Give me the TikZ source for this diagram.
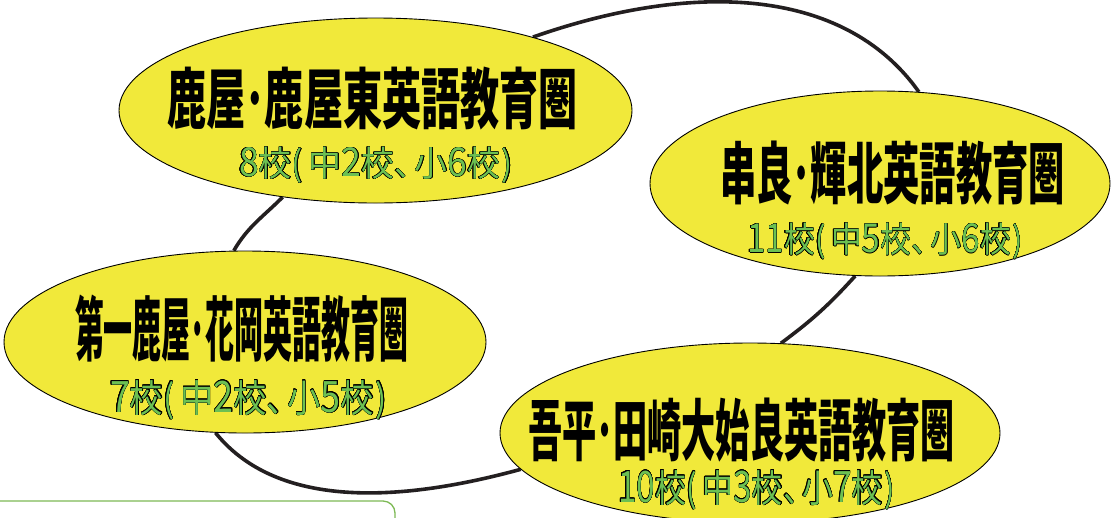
\documentclass[tikz,border=0pt]{standalone}
\usepackage{fontspec}
\usepackage{graphicx}
\usepackage[copies]{contour}
\usetikzlibrary{shapes.geometric,backgrounds}
\newfontfamily\jp{Noto Sans CJK JP}
\definecolor{ellfill}{RGB}{241,233,58}
\definecolor{ringc}{RGB}{35,31,32}
\definecolor{cntgreen}{RGB}{108,192,82}
\definecolor{boxgreen}{RGB}{125,185,85}
\contourlength{0.45pt}
\contournumber{16}
\newcommand\ttl[3]{\resizebox{#1}{\height}{\fontsize{#2}{#2}\selectfont\jp\bfseries #3}}
\newcommand\cnt[3]{\resizebox{#1}{\height}{\fontsize{#2}{#2}\selectfont\jp\textcolor{cntgreen}{\contour{black}{#3}}}}
\newcommand\dg[1]{\scalebox{1.08}[1.14]{#1}}
\newcommand\tp{(\kern0.18em}
\newcommand\cp{\kern0.05em)}
\newcommand\tn{\makebox[0.62em][l]{、}}
\tikzset{
  zone/.style={ellipse, draw=black, line width=0.9pt, fill=ellfill, inner sep=0pt},
  ring/.style={draw=ringc, line width=3.6pt},
  title/.style={inner sep=0pt, text=black},
  count/.style={inner sep=0pt},
  boxline/.style={draw=boxgreen, line width=1.3pt, rounded corners=12pt}
}
\begin{document}
\begin{tikzpicture}[x=1pt,y=-1pt]
\useasboundingbox (0,0) rectangle (1113,517);
\clip (0,0) rectangle (1113,517);

\node[zone, minimum width=513pt, minimum height=185pt] (e1) at (375.5,110.5) {};
\node[zone, minimum width=460pt, minimum height=185pt] (e2) at (880,183.5) {};
\node[zone, minimum width=482pt, minimum height=182pt] (e3) at (245,342) {};
\node[zone, minimum width=500pt, minimum height=180pt] (e4) at (750,433) {};

\begin{scope}[on background layer]
\draw[ring] (e1.25) .. controls (690.7,-18.3) and (843.4,-14.5) .. (e2.67);
\draw[ring] (e2.-105) .. controls (828.6,305.2) and (812.8,319.6) .. (e4.71);
\draw[ring] (e4.189) .. controls (419.5,497) and (282.5,516) .. (e3.252);
\draw[ring] (e3.97) .. controls (248.1,226.2) and (262.7,217.1) .. (e1.223);
\end{scope}

\node[title] (t1) at (372.5,98.5) {\ttl{411pt}{66}{鹿屋･鹿屋東英語教育圏}};
\node[title] (t2) at (892.5,173) {\ttl{345pt}{67}{串良･輝北英語教育圏}};
\node[title] (t3) at (241.5,328.5) {\ttl{333pt}{70}{第一鹿屋･花岡英語教育圏}};
\node[title] (t4) at (741.5,430) {\ttl{427pt}{67}{吾平･田崎大始良英語教育圏}};

\node[count] (c1) at (376,165.5) {\cnt{274pt}{35}{\dg{8}校\tp 中\dg{2}校\tn 小\dg{6}校\cp}};
\node[count] (c2) at (885,241.5) {\cnt{276pt}{35}{\dg{11}校\tp 中\dg{5}校\tn 小\dg{6}校\cp}};
\node[count] (c3) at (248.5,400) {\cnt{277pt}{38}{\dg{7}校\tp 中\dg{2}校\tn 小\dg{5}校\cp}};
\node[count] (c4) at (756.5,490) {\cnt{277pt}{38}{\dg{10}校\tp 中\dg{3}校\tn 小\dg{7}校\cp}};

\draw[boxline] (-30,501) rectangle (395,560);
\end{tikzpicture}
\end{document}
